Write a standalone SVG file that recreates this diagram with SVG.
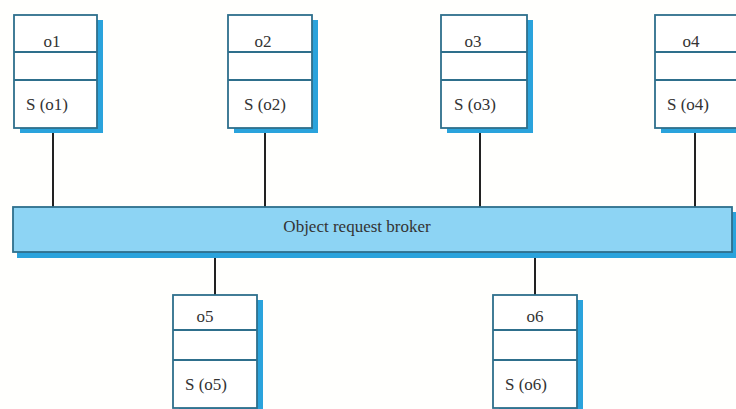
<svg xmlns="http://www.w3.org/2000/svg" width="736" height="409" viewBox="0 0 736 409">
<style>
.sh{fill:#2aa3dc}
.bx{fill:#ffffff;stroke:#2e6f8c;stroke-width:1.8}
.dv{stroke:#2e6f8c;stroke-width:1.8}
.t{font-family:"Liberation Serif",serif;font-size:17px;fill:#333}
.c{stroke:#222;stroke-width:2}
</style>
<rect width="736" height="409" fill="#fffffd"/>
<g id="connectors">
<line class="c" x1="53" y1="128" x2="53" y2="207"/>
<line class="c" x1="265" y1="128" x2="265" y2="207"/>
<line class="c" x1="480" y1="128" x2="480" y2="207"/>
<line class="c" x1="695" y1="128" x2="695" y2="207"/>
<line class="c" x1="215" y1="252" x2="215" y2="295"/>
<line class="c" x1="535" y1="252" x2="535" y2="295"/>
</g>
<g id="broker">
<rect class="sh" x="17" y="212" width="719" height="46"/>
<rect x="13" y="207" width="719" height="45" fill="#8dd4f4" stroke="#2e6f8c" stroke-width="1.8"/>
<text class="t" x="357" y="232" text-anchor="middle">Object request broker</text>
</g>
<g id="o1">
<rect class="sh" x="20" y="20" width="83" height="113"/>
<rect class="bx" x="14" y="15" width="83" height="113"/>
<line class="dv" x1="14" y1="52" x2="97" y2="52"/>
<line class="dv" x1="14" y1="80" x2="97" y2="80"/>
<text class="t" x="52" y="47" text-anchor="middle">o1</text>
<text class="t" x="26" y="110">S (o1)</text>
</g>
<g id="o2">
<rect class="sh" x="234" y="20" width="84" height="113"/>
<rect class="bx" x="228" y="15" width="84" height="113"/>
<line class="dv" x1="228" y1="52" x2="312" y2="52"/>
<line class="dv" x1="228" y1="80" x2="312" y2="80"/>
<text class="t" x="263" y="47" text-anchor="middle">o2</text>
<text class="t" x="244" y="110">S (o2)</text>
</g>
<g id="o3">
<rect class="sh" x="447" y="20" width="86" height="113"/>
<rect class="bx" x="441" y="15" width="86" height="113"/>
<line class="dv" x1="441" y1="52" x2="527" y2="52"/>
<line class="dv" x1="441" y1="80" x2="527" y2="80"/>
<text class="t" x="473" y="47" text-anchor="middle">o3</text>
<text class="t" x="454" y="110">S (o3)</text>
</g>
<g id="o4">
<rect class="sh" x="661" y="20" width="84" height="113"/>
<rect class="bx" x="655" y="15" width="84" height="113"/>
<line class="dv" x1="655" y1="52" x2="739" y2="52"/>
<line class="dv" x1="655" y1="80" x2="739" y2="80"/>
<text class="t" x="691" y="47" text-anchor="middle">o4</text>
<text class="t" x="667" y="110">S (o4)</text>
</g>
<g id="o5">
<rect class="sh" x="179" y="300" width="84" height="113"/>
<rect class="bx" x="173" y="295" width="84" height="113"/>
<line class="dv" x1="173" y1="330" x2="257" y2="330"/>
<line class="dv" x1="173" y1="360" x2="257" y2="360"/>
<text class="t" x="205" y="322" text-anchor="middle">o5</text>
<text class="t" x="185" y="390">S (o5)</text>
</g>
<g id="o6">
<rect class="sh" x="499" y="300" width="84" height="113"/>
<rect class="bx" x="493" y="295" width="84" height="113"/>
<line class="dv" x1="493" y1="330" x2="577" y2="330"/>
<line class="dv" x1="493" y1="360" x2="577" y2="360"/>
<text class="t" x="535" y="322" text-anchor="middle">o6</text>
<text class="t" x="505" y="390">S (o6)</text>
</g>
</svg>
